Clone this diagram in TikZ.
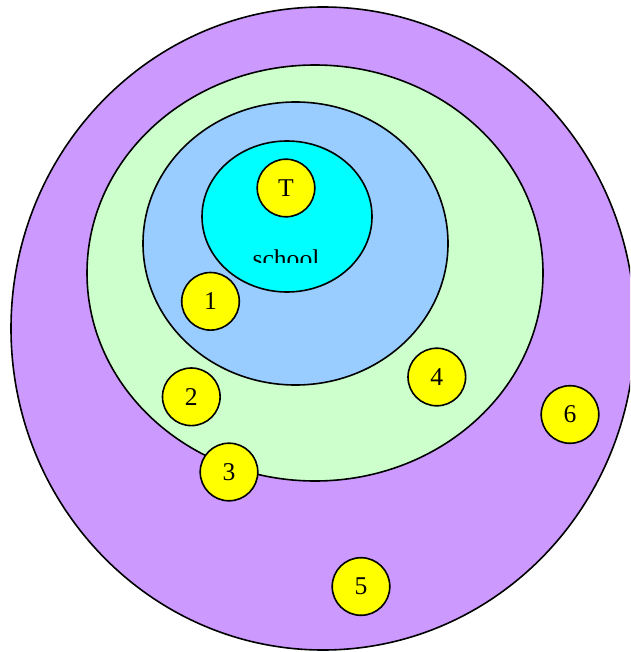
\documentclass[tikz,border=0pt]{standalone}
\usepackage{fontspec}
\setmainfont{Liberation Serif}
\usetikzlibrary{shapes.geometric}
\definecolor{cpurple}{RGB}{204,153,255}
\definecolor{cgreen}{RGB}{204,255,204}
\definecolor{cblue}{RGB}{153,204,255}
\definecolor{ccyan}{RGB}{0,255,255}
\definecolor{cyellow}{RGB}{255,255,0}
\tikzset{
  x=1pt, y=-1pt,
  labelfont/.style={font=\fontsize{25.6}{30}\selectfont},
  region/.style={ellipse, draw=black, line width=1.6pt, inner sep=0pt, outer sep=0pt},
  person/.style={circle, draw=black, fill=cyellow, line width=1.6pt, minimum size=57.6pt, inner sep=0pt, labelfont},
}
\begin{document}
\begin{tikzpicture}
\useasboundingbox (0,0) rectangle (630,652);
\clip (0,0) rectangle (630,652);
\node[region, fill=cpurple, minimum width=624pt, minimum height=643pt] (world) at (323,328.5) {};
\node[region, fill=cgreen, minimum width=456pt, minimum height=416pt] (community) at (315,273) {};
\node[region, fill=cblue, minimum width=305pt, minimum height=283pt] (family) at (295.5,243.5) {};
\node[region, fill=ccyan, minimum width=170pt, minimum height=151pt] (schoolarea) at (287,216.5) {};
\begin{scope}
\clip (200,240) rectangle (380,262.7);
\node[anchor=base, labelfont, inner sep=0pt] (school) at (286,267.5) {school};
\end{scope}
\node[person] (t) at (286,188) {T};
\node[person] (p1) at (210.5,301.3) {1};
\node[person] (p2) at (191.3,396.8) {2};
\node[person] (p3) at (229,472) {3};
\node[person] (p4) at (436.8,377) {4};
\node[person] (p5) at (361,586.5) {5};
\node[person] (p6) at (570,414.5) {6};
\end{tikzpicture}
\end{document}
